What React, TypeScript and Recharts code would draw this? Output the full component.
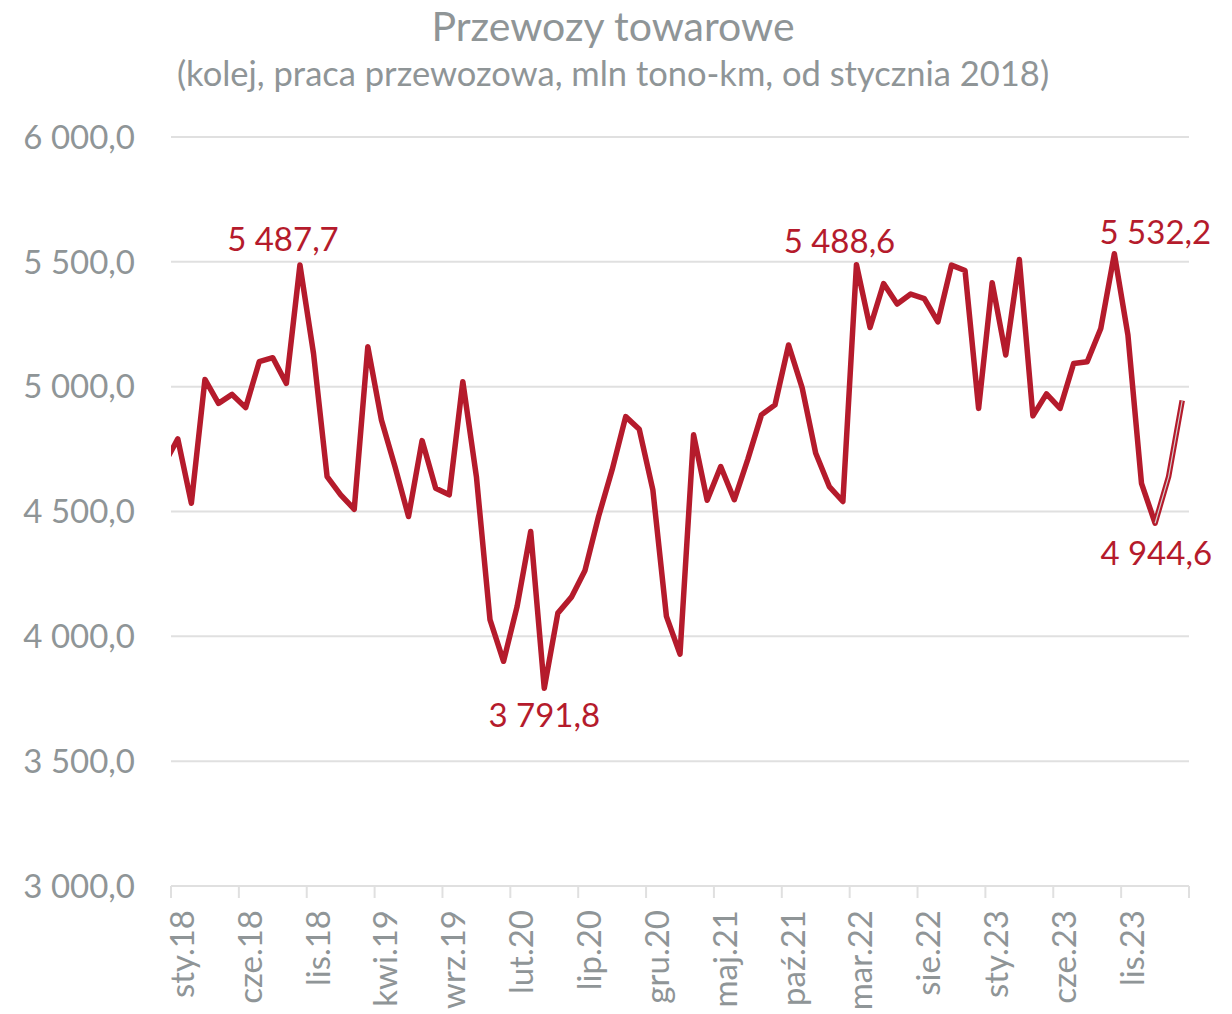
import React from 'react';
import { LineChart, Line, XAxis, YAxis, CartesianGrid, ReferenceDot } from 'recharts';

// Categories (monthly, first one is just outside the visible axis start)
const months = [
  'gru.17',
  'sty.18', 'lut.18', 'mar.18', 'kwi.18', 'maj.18', 'cze.18', 'lip.18', 'sie.18', 'wrz.18', 'paź.18', 'lis.18', 'gru.18',
  'sty.19', 'lut.19', 'mar.19', 'kwi.19', 'maj.19', 'cze.19', 'lip.19', 'sie.19', 'wrz.19', 'paź.19', 'lis.19', 'gru.19',
  'sty.20', 'lut.20', 'mar.20', 'kwi.20', 'maj.20', 'cze.20', 'lip.20', 'sie.20', 'wrz.20', 'paź.20', 'lis.20', 'gru.20',
  'sty.21', 'lut.21', 'mar.21', 'kwi.21', 'maj.21', 'cze.21', 'lip.21', 'sie.21', 'wrz.21', 'paź.21', 'lis.21', 'gru.21',
  'sty.22', 'lut.22', 'mar.22', 'kwi.22', 'maj.22', 'cze.22', 'lip.22', 'sie.22', 'wrz.22', 'paź.22', 'lis.22', 'gru.22',
  'sty.23', 'lut.23', 'mar.23', 'kwi.23', 'maj.23', 'cze.23', 'lip.23', 'sie.23', 'wrz.23', 'paź.23', 'lis.23', 'gru.23',
  'sty.24', 'lut.24', 'mar.24',
];

// Rail freight work, mln tonne-km
const values = [
  4690,
  4791, 4533, 5029, 4933, 4969, 4916, 5100, 5116, 5013, 5487.7, 5133, 4640,
  4567, 4509, 5160, 4867, 4680, 4480, 4784, 4593, 4567, 5020, 4640, 4067,
  3900, 4120, 4420, 3791.8, 4093, 4157, 4264, 4480, 4667, 4880, 4829, 4587,
  4080, 3929, 4807, 4545, 4680, 4547, 4710, 4887, 4927, 5167, 4995, 4733,
  4600, 4540, 5488.6, 5237, 5413, 5331, 5371, 5353, 5260, 5487, 5465, 4913,
  5416, 5127, 5509, 4883, 4971, 4913, 5093, 5100, 5233, 5532.2, 5207, 4613,
  4453, 4640, 4944.6,
];

// thin grey overlay series on the last months
const overlayMonths = ['sty.24', 'lut.24', 'mar.24'];

const tickLabels = [
  'sty.18', 'cze.18', 'lis.18', 'kwi.19', 'wrz.19', 'lut.20', 'lip.20', 'gru.20',
  'maj.21', 'paź.21', 'mar.22', 'sie.22', 'sty.23', 'cze.23', 'lis.23',
];

const yTicks = [3000, 3500, 4000, 4500, 5000, 5500, 6000];

// annotated points (month) and label placement offsets (px)
const annotatedMonths = ['paź.18', 'kwi.20', 'mar.22', 'paź.23', 'mar.24'];
const annotationOffsets = [
  { dx: -17, dy: -27 },
  { dx: 0, dy: 26 },
  { dx: -17, dy: -25 },
  { dx: 41, dy: -23 },
  { dx: -26, dy: 152 },
];

const firstIdx = months.indexOf('sty.18');
const data = months.map((m, k) => ({
  i: k - firstIdx,
  month: m,
  value: values[k],
  overlay: overlayMonths.includes(m) ? values[k] : null,
}));
const lastI = data[data.length - 1].i;
const tickPositions = [...tickLabels.map((t) => months.indexOf(t) - firstIdx - 0.5), lastI + 0.5];

const RED = '#b51b2c';
const GREY_TEXT = '#8f9597';
const GRID = '#e0e0e0';
const FONT = 'Lato, "Open Sans", sans-serif';

const W = 1232;
const H = 1014;
const PLOT_LEFT = 171;
const PLOT_RIGHT = 1189;
const PLOT_TOP = 137;
const PLOT_BOTTOM = 886;
const unitPx = (PLOT_RIGHT - PLOT_LEFT) / (lastI + 1);

const fmt = (v: number) => {
  const [a, b] = v.toFixed(1).split('.');
  return a.replace(/\B(?=(\d{3})+(?!\d))/g, ' ') + ',' + b;
};

const XTick = (props: any) => {
  const { x, y, payload } = props;
  const catIdx = payload.value + 0.5;
  const m = months[catIdx + firstIdx];
  if (catIdx > lastI || !tickLabels.includes(m)) return <g />;
  const tx = x + unitPx / 2 + 3;
  return (
    <text
      x={tx}
      y={y}
      transform={`rotate(-90, ${tx}, ${y})`}
      textAnchor="end"
      dominantBaseline="central"
      fill={GREY_TEXT}
      fontSize={33}
      fontFamily={FONT}
    >
      {m}
    </text>
  );
};

export default function App() {
  return (
    <div style={{ position: 'absolute', left: 0, top: 0, width: W, height: H, background: '#fff', overflow: 'hidden' }}>
      <svg width={W} height={110} style={{ position: 'absolute', left: 0, top: 0 }}>
        <text x={613} y={41} textAnchor="middle" fill={GREY_TEXT} fontSize={41} fontFamily={FONT}>
          Przewozy towarowe
        </text>
        <text x={613} y={86} textAnchor="middle" fill={GREY_TEXT} fontSize={34.5} fontFamily={FONT}>
          (kolej, praca przewozowa, mln tono-km, od stycznia 2018)
        </text>
      </svg>
      <div style={{ position: 'absolute', left: 0, top: 0 }}>
        <LineChart
          width={W}
          height={H}
          data={data}
          margin={{ top: PLOT_TOP, right: W - PLOT_RIGHT, bottom: 0, left: 0 }}
        >
          <CartesianGrid vertical={false} stroke={GRID} strokeWidth={2} />
          <XAxis
            dataKey="i"
            type="number"
            domain={[-0.5, lastI + 0.5]}
            allowDataOverflow
            ticks={tickPositions}
            interval={0}
            height={H - PLOT_BOTTOM}
            axisLine={{ stroke: GRID, strokeWidth: 2 }}
            tickLine={{ stroke: GRID, strokeWidth: 2 }}
            tickSize={12}
            tickMargin={12}
            tick={<XTick />}
          />
          <YAxis
            domain={[3000, 6000]}
            ticks={yTicks}
            interval={0}
            width={PLOT_LEFT}
            axisLine={false}
            tickLine={false}
            tickSize={0}
            tickMargin={36}
            tickFormatter={(v: number) => fmt(v)}
            tick={{ fill: GREY_TEXT, fontSize: 33, fontFamily: FONT }}
          />
          <Line
            dataKey="value"
            stroke={RED}
            strokeWidth={5.5}
            strokeLinejoin="round"
            dot={false}
            activeDot={false}
            isAnimationActive={false}
          />
          <Line
            dataKey="overlay"
            stroke="#cfcfcf"
            strokeWidth={1.2}
            dot={false}
            activeDot={false}
            isAnimationActive={false}
          />
          {annotatedMonths.map((m, k) => {
            const d = data.find((p) => p.month === m)!;
            const off = annotationOffsets[k];
            return (
              <ReferenceDot
                key={m}
                x={d.i}
                y={d.value}
                r={0}
                ifOverflow="visible"
                shape={(p: any) => (
                  <text
                    x={p.cx + off.dx}
                    y={p.cy + off.dy}
                    textAnchor="middle"
                    dominantBaseline="central"
                    fill={RED}
                    fontSize={33}
                    fontFamily={FONT}
                  >
                    {fmt(d.value)}
                  </text>
                )}
              />
            );
          })}
        </LineChart>
      </div>
    </div>
  );
}
